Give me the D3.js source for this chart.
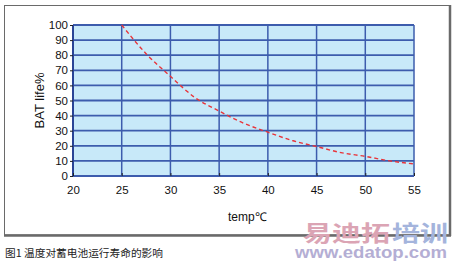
<!DOCTYPE html>
<html><head><meta charset="utf-8">
<script src="https://cdn.jsdelivr.net/npm/d3@7"></script>
<style>body{margin:0;background:#fff}svg{display:block}</style>
</head><body>
<svg id="c" width="455" height="264"></svg>
<script>
const temps = [25, 27.5, 30, 32.5, 35, 37.5, 40, 42.5, 45, 47.5, 50, 52.5, 55];
const life = [100, 81, 66, 52, 43, 35, 29, 23.5, 19.5, 15.5, 13, 10, 8];
const xTicks = [20, 25, 30, 35, 40, 45, 50, 55];
const yTicks = [0, 10, 20, 30, 40, 50, 60, 70, 80, 90, 100];

const svg = d3.select("#c");
const font = "Arial, 'Liberation Sans', sans-serif";
// outer frame
svg.append("rect").attr("x",4.5).attr("y",5.5).attr("width",445).attr("height",229.5)
  .attr("fill","none").attr("stroke","#6a6a6a").attr("stroke-width",1);
svg.append("line").attr("x1",450).attr("x2",450).attr("y1",5).attr("y2",236).attr("stroke","#6a6a6a").attr("stroke-width",2.5);
svg.append("line").attr("x1",4).attr("x2",451).attr("y1",235.5).attr("y2",235.5).attr("stroke","#6a6a6a").attr("stroke-width",2.5);

const x = d3.scaleLinear().domain([20,55]).range([73,414]);
const y = d3.scaleLinear().domain([0,100]).range([176,25]);

svg.append("rect").attr("x",x(20)).attr("y",y(100)).attr("width",x(55)-x(20)).attr("height",y(0)-y(100)).attr("fill","#c8e9f9");

const grid = "#3d5cad";
svg.append("g").selectAll("line").data(yTicks.filter(d=>d>0)).join("line")
  .attr("x1",x(20)).attr("x2",x(55)).attr("y1",d=>y(d)).attr("y2",d=>y(d))
  .attr("stroke",grid).attr("stroke-width",1.8);
svg.append("g").selectAll("line").data(xTicks.filter(d=>d>20)).join("line")
  .attr("x1",d=>x(d)).attr("x2",d=>x(d)).attr("y1",y(0)).attr("y2",y(100))
  .attr("stroke",grid).attr("stroke-width",1.5);
svg.append("line").attr("x1",x(20)).attr("x2",x(55)).attr("y1",y(0)).attr("y2",y(0)).attr("stroke",grid).attr("stroke-width",2);
svg.append("line").attr("x1",x(20)).attr("x2",x(20)).attr("y1",y(0)).attr("y2",y(100)).attr("stroke","#2a4496").attr("stroke-width",2);

const ax = svg.append("g").attr("transform",`translate(0,${y(0)})`)
  .call(d3.axisBottom(x).tickValues(xTicks).tickSize(-3).tickPadding(8));
ax.select(".domain").remove();
ax.selectAll(".tick line").attr("stroke","#222");
ax.selectAll("text").attr("font-family",font).attr("font-size",11.5).attr("fill","#111").attr("dy","0.9em");

const ay = svg.append("g").attr("transform",`translate(${x(20)},0)`)
  .call(d3.axisLeft(y).tickValues(yTicks).tickSize(3).tickPadding(2));
ay.select(".domain").remove();
ay.selectAll(".tick line").attr("stroke","#222");
ay.selectAll("text").attr("font-family",font).attr("font-size",11.5).attr("fill","#111");

const line = d3.line().x((d,i)=>x(temps[i])).y(d=>y(d)).curve(d3.curveMonotoneX);
svg.append("path").attr("d",line(life)).attr("fill","none").attr("stroke","#e8343a")
  .attr("stroke-width",1.4).attr("stroke-dasharray","4,3");

svg.append("text").attr("transform",`translate(44,${y(50)}) rotate(-90)`).attr("text-anchor","middle")
  .attr("font-family",font).attr("font-size",13).attr("fill","#111").text("BAT life%");
svg.append("text").attr("x",228).attr("y",221).attr("font-family",font).attr("font-size",12).attr("fill","#111").text("temp℃");

svg.append("text").attr("x",5).attr("y",257).attr("font-family","'Noto Sans CJK SC', sans-serif").attr("font-size",10.3).attr("fill","#222")
  .attr("textLength",158).attr("lengthAdjust","spacingAndGlyphs").text("图1 温度对蓄电池运行寿命的影响");

// watermark
svg.append("text").attr("x",303).attr("y",241).attr("font-family","'Noto Sans CJK SC', sans-serif").attr("font-weight","bold").attr("font-size",22).attr("fill","#dba4b4")
  .attr("textLength",87).attr("lengthAdjust","spacingAndGlyphs").text("易迪拓");
svg.append("text").attr("x",392).attr("y",241).attr("font-family","'Noto Sans CJK SC', sans-serif").attr("font-weight","bold").attr("font-size",22).attr("fill","#a4b4dc")
  .attr("textLength",56).attr("lengthAdjust","spacingAndGlyphs").text("培训");
svg.append("text").attr("x",295).attr("y",258).attr("font-family",font).attr("font-weight","bold").attr("font-size",16).attr("fill","#b4aed4")
  .attr("textLength",152).attr("lengthAdjust","spacingAndGlyphs").text("www.edatop.com");
</script>
</body></html>
